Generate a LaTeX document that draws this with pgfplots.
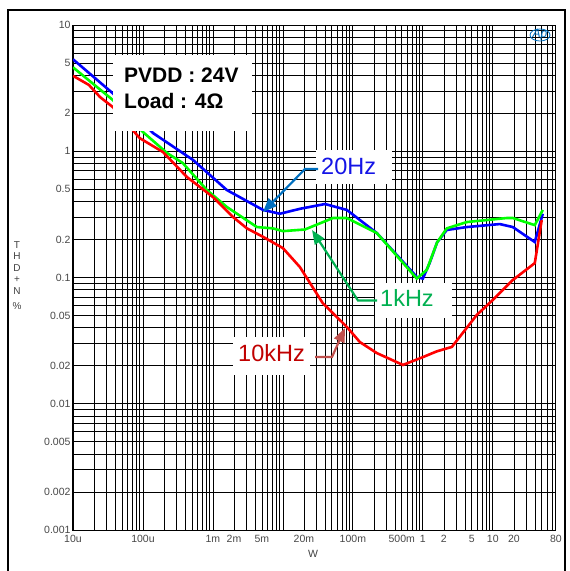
\documentclass[border=0pt]{standalone}
\usepackage{pgfplots}
\pgfplotsset{compat=1.18}
\usepackage{fontspec}
\setmainfont{Liberation Sans}
\usetikzlibrary{arrows.meta}

\definecolor{cblue}{RGB}{0,0,255}
\definecolor{cgreen}{RGB}{0,255,0}
\definecolor{cred}{RGB}{255,0,0}
\definecolor{tblue}{RGB}{20,20,230}
\definecolor{tgreen}{RGB}{0,176,80}
\definecolor{tred}{RGB}{192,0,0}
\definecolor{ablue}{RGB}{0,112,192}
\definecolor{ared}{RGB}{192,80,77}

\begin{document}
\begin{tikzpicture}[x=1pt,y=1pt]
\useasboundingbox (0,0) rectangle (570,-571);
% outer frame
\draw[line width=2pt] (8,-575) -- (8,-10) -- (565,-10) -- (565,-575);

\begin{axis}[
    at={(73pt,-530pt)}, anchor=south west,
    scale only axis, width=483pt, height=505pt,
    xmode=log, ymode=log,
    xmin=1e-5, xmax=80, ymin=0.001, ymax=10,
    xtick={1e-5,1e-4,1e-3,1e-2,1e-1,1,10},
    xticklabels={10u,100u,1m,{},100m,1,10},
    extra x ticks={2e-3,5e-3,2e-2,5e-1,2,5,20,80},
    extra x tick labels={2m,5m,20m,500m,2,5,20,80},
    extra x tick style={grid=none},
    ytick={0.001,0.01,0.1,1,10},
    yticklabels={0.001,0.01,0.1,1,10},
    extra y ticks={0.002,0.005,0.02,0.05,0.2,0.5,2,5},
    extra y tick labels={0.002,0.005,0.02,0.05,0.2,0.5,2,5},
    extra y tick style={grid=none},
    minor xtick={2e-5,3e-5,4e-5,5e-5,6e-5,7e-5,8e-5,9e-5,
                 2e-4,3e-4,4e-4,5e-4,6e-4,7e-4,8e-4,9e-4,
                 2e-3,3e-3,4e-3,5e-3,6e-3,7e-3,8e-3,9e-3,
                 2e-2,3e-2,4e-2,5e-2,6e-2,7e-2,8e-2,9e-2,
                 0.2,0.3,0.4,0.5,0.6,0.7,0.8,0.9,
                 2,3,4,5,6,7,8,9,
                 20,30,40,50,60,70},
    minor ytick={0.002,0.003,0.004,0.005,0.006,0.007,0.008,0.009,
                 0.02,0.03,0.04,0.05,0.06,0.07,0.08,0.09,
                 0.2,0.3,0.4,0.5,0.6,0.7,0.8,0.9,
                 2,3,4,5,6,7,8,9},
    grid=both,
    major grid style={black, line width=0.8pt},
    minor grid style={black, line width=0.65pt},
    major tick length=0pt, minor tick length=0pt,
    axis line style={black, line width=1pt},
    ticklabel style={font=\fontsize{10.5}{11}\selectfont, text=black!72},
    xticklabel style={yshift=-1.5pt},
    yticklabel style={xshift=1pt},
]
\addplot[cblue, line width=2.6pt] coordinates {
(1e-5,5.35) (3.7e-5,2.88) (1.39e-4,1.395) (5.2e-4,0.853) (1.58e-3,0.493)
(5.2e-3,0.343) (9.06e-3,0.32) (0.0175,0.35) (0.04,0.382) (0.082,0.343)
(0.22,0.225) (0.82,0.101) (1.0,0.098) (1.25,0.13) (1.6,0.19) (2.2,0.238)
(4.25,0.251) (12.6,0.265) (19.3,0.251) (39.8,0.191) (51.8,0.32)
};
\addplot[cgreen, line width=2.6pt] coordinates {
(1e-5,4.62) (3.7e-5,2.55) (1e-4,1.42) (2.2e-4,0.97) (3.7e-4,0.807)
(8.2e-4,0.493) (1.58e-3,0.362) (4.25e-3,0.251) (7.2e-3,0.245) (0.01,0.233)
(0.0206,0.24) (0.052,0.296) (0.082,0.296) (0.22,0.225) (0.82,0.098)
(1.14,0.115) (1.6,0.19) (2.2,0.245) (4.25,0.275) (15.8,0.296) (19.3,0.296)
(39.8,0.26) (51.8,0.343)
};
\addplot[cred, line width=2.6pt] coordinates {
(1e-5,3.96) (1.69e-5,3.35) (2.43e-5,2.69) (3.7e-5,2.24) (9.0e-5,1.27)
(1.93e-4,0.986) (4.25e-4,0.625) (1e-3,0.434) (1.93e-3,0.302) (3.06e-3,0.245)
(5.2e-3,0.21) (0.01,0.171) (0.0175,0.121) (0.037,0.0628) (0.082,0.0406)
(0.126,0.0308) (0.22,0.0252) (0.52,0.0203) (1.0,0.0234) (1.58,0.026)
(2.6,0.0282) (5.9,0.0505) (10,0.0664) (19.3,0.0955) (39.8,0.13) (50,0.285)
};
\end{axis}

% axis titles
\node[font=\fontsize{10}{11.5}\selectfont, text=black!75, align=center, anchor=north]
  at (17,-238) {T\\H\\D\\+\\N\\[4pt]\%};
\node[font=\fontsize{10.5}{11}\selectfont, text=black!75] at (313,-554) {W};

% condition box
\fill[white] (113,-55) rectangle (252,-131);
\node[anchor=base west, inner sep=0, font=\bfseries\fontsize{21}{21}\selectfont] at (124,-82) {PVDD : 24V};
\node[anchor=base west, inner sep=0, font=\bfseries\fontsize{21}{21}\selectfont] at (124,-108) {Load : 4Ω};

% 20Hz label
\fill[white] (316,-150) rectangle (392,-184);
\node[anchor=base west, inner sep=0, text=tblue, font=\fontsize{23.5}{24}\selectfont] at (321,-174) {20Hz};
\draw[ablue, line width=2.2pt, -{Triangle[length=14pt,width=11pt]}] (318,-169) -- (305,-169) -- (263,-212);

% 1kHz label
\fill[white] (375,-283) rectangle (452,-318);
\node[anchor=base west, inner sep=0, text=tgreen, font=\fontsize{23.5}{24}\selectfont] at (380,-306) {1kHz};
\draw[tgreen, line width=2.2pt, -{Triangle[length=14pt,width=11pt]}] (377,-300.5) -- (358,-300.5) -- (312,-230);

% 10kHz label
\fill[white] (233,-337) rectangle (310,-375);
\node[anchor=base west, inner sep=0, text=tred, font=\fontsize{23.5}{24}\selectfont] at (238,-361) {10kHz};
\draw[ared, line width=2.2pt, -{Triangle[length=14pt,width=11pt]}] (315,-357) -- (332,-357) -- (345,-328);

% logo
\node[text=ablue, font=\itshape\fontsize{12}{12}\selectfont] at (540,-35) {Ap};
\draw[ablue, line width=0.8pt] (540,-35) ellipse (10pt and 6pt);
\end{tikzpicture}
\end{document}
